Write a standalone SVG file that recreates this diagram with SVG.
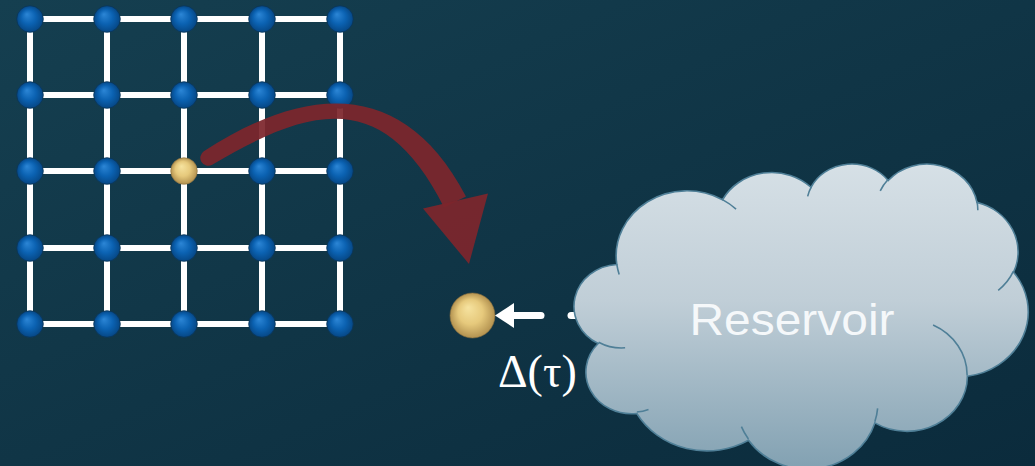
<svg xmlns="http://www.w3.org/2000/svg" width="1035" height="466" viewBox="0 0 1035 466">
  <defs>
    <linearGradient id="bg" x1="0" y1="0" x2="1" y2="1">
      <stop offset="0" stop-color="#153f50"/>
      <stop offset="1" stop-color="#0b2b3c"/>
    </linearGradient>
    <radialGradient id="blueBall" cx="0.5" cy="0.5" r="0.5" fx="0.38" fy="0.32">
      <stop offset="0" stop-color="#2c86d6"/>
      <stop offset="0.55" stop-color="#0b62b2"/>
      <stop offset="1" stop-color="#064785"/>
    </radialGradient>
    <radialGradient id="goldBall" cx="0.5" cy="0.5" r="0.5" fx="0.4" fy="0.32">
      <stop offset="0" stop-color="#f6e3a0"/>
      <stop offset="0.55" stop-color="#e6c97c"/>
      <stop offset="1" stop-color="#b39250"/>
    </radialGradient>
    <linearGradient id="cloudFill" x1="0" y1="0" x2="0" y2="1">
      <stop offset="0" stop-color="#d6e0e6"/>
      <stop offset="0.45" stop-color="#c0ced7"/>
      <stop offset="1" stop-color="#82a1b2"/>
    </linearGradient>
    <style>
      .bond { stroke: #ffffff; stroke-width: 6; fill: none; }
      .site { fill: url(#blueBall); stroke: #0a3556; stroke-width: 0.8; }
      .gold { fill: url(#goldBall); stroke: #8a7040; stroke-width: 0.6; }
      .hop { fill: #7d262c; opacity: 0.93; }
      .couple { stroke: #ffffff; stroke-width: 7; stroke-linecap: round; fill: none; }
      .cloud-edge { stroke: #4f7f97; stroke-width: 1.6; vector-effect: non-scaling-stroke; }
    </style>
  </defs>

  <rect width="1035" height="466" fill="url(#bg)"/>

  <!-- lattice bonds -->
  <g id="lattice-bonds">
    <path class="bond" d="M30,19H340 M30,95H340 M30,171H340 M30,248H340 M30,324H340"/>
    <path class="bond" d="M30,19V324 M107,19V324 M184,19V324 M262,19V324 M340,19V324"/>
  </g>

  <!-- lattice sites -->
  <g id="lattice-sites">
    <circle class="site" cx="30" cy="19" r="13.3"/>
    <circle class="site" cx="107" cy="19" r="13.3"/>
    <circle class="site" cx="184" cy="19" r="13.3"/>
    <circle class="site" cx="262" cy="19" r="13.3"/>
    <circle class="site" cx="340" cy="19" r="13.3"/>
    <circle class="site" cx="30" cy="95" r="13.3"/>
    <circle class="site" cx="107" cy="95" r="13.3"/>
    <circle class="site" cx="184" cy="95" r="13.3"/>
    <circle class="site" cx="262" cy="95" r="13.3"/>
    <circle class="site" cx="340" cy="95" r="13.3"/>
    <circle class="site" cx="30" cy="171" r="13.3"/>
    <circle class="site" cx="107" cy="171" r="13.3"/>
    <circle class="site" cx="262" cy="171" r="13.3"/>
    <circle class="site" cx="340" cy="171" r="13.3"/>
    <circle class="site" cx="30" cy="248" r="13.3"/>
    <circle class="site" cx="107" cy="248" r="13.3"/>
    <circle class="site" cx="184" cy="248" r="13.3"/>
    <circle class="site" cx="262" cy="248" r="13.3"/>
    <circle class="site" cx="340" cy="248" r="13.3"/>
    <circle class="site" cx="30" cy="324" r="13.3"/>
    <circle class="site" cx="107" cy="324" r="13.3"/>
    <circle class="site" cx="184" cy="324" r="13.3"/>
    <circle class="site" cx="262" cy="324" r="13.3"/>
    <circle class="site" cx="340" cy="324" r="13.3"/>
  </g>

  <!-- impurity site in the lattice -->
  <g id="impurity-site">
    <circle class="gold" cx="184" cy="171" r="13.3"/>
  </g>

  <!-- isolated impurity -->
  <g id="impurity">
    <circle class="gold" cx="472.5" cy="315.5" r="22.5"/>
  </g>

  <!-- connectors -->
  <g id="connectors">
    <g id="mapping-arrow">
      <!-- tapered curved shaft with rounded tail -->
      <path class="hop" d="M203.8,151.2 C304,86.5 402.8,75.4 466,196.6 L444,207.4 C385,90 314,104 212.2,164.8 A8,8 0 0,1 203.8,151.2 Z"/>
      <polygon class="hop" points="423,208.5 488,193.5 469,264"/>
    </g>
    <g id="hybridization-arrow">
      <line class="couple" x1="571" y1="315.5" x2="605" y2="315.5"/>
      <line class="couple" x1="512" y1="315.5" x2="541" y2="315.5"/>
      <polygon fill="#ffffff" points="495,315.5 514,303 514,328"/>
    </g>
  </g>

  <!-- bath cloud -->
  <g id="reservoir">
    <g transform="translate(576,163) scale(0.010463,0.00706)">
      <path class="cloud-edge" fill="url(#cloudFill)" d="M3900,14370
        A6753,9190 0 0,1 14005,5202
        A5333,7267 0 0,1 22460,3434
        A4365,5945 0 0,1 29838,2483
        A4857,6595 0 0,1 38323,5580
        A5333,7273 0 0,1 41823,15463
        A6775,9220 0 0,1 37409,30205
        A5785,7867 0 0,1 28561,36816
        A6752,9215 0 0,1 16487,39272
        A7720,10543 0 0,1 5812,35482
        A4360,5918 0 0,1 2121,25560
        A4345,5945 0 0,1 3900,14370 Z"/>
      <path class="cloud-edge" fill="none" d="M4693,26177 A4345,5945 0 0,1 2159,25380
        M6928,34899 A4360,5918 0 0,1 5820,35280
        M16478,39090 A6752,9215 0 0,1 15808,37346
        M28827,34751 A6752,9215 0 0,1 28561,36660
        M34129,22954 A5785,7867 0 0,1 37381,30090
        M41798,15354 A5333,7273 0 0,1 40351,18029
        M38324,5426 A4857,6595 0 0,1 38400,6690
        M29078,3952 A4857,6595 0 0,1 29821,2339
        M22141,4720 A4365,5945 0 0,1 22500,3330
        M14000,5192 A6753,9190 0 0,1 15298,6538
        M4127,15789 A6753,9190 0 0,1 3900,14370"/>
    </g>
    <text x="792" y="335" text-anchor="middle" font-family="'Liberation Sans', Arial, sans-serif" font-size="45" fill="#f5f8fa" textLength="205" lengthAdjust="spacingAndGlyphs">Reservoir</text>
  </g>

  <!-- hybridization label -->
  <g id="hybridization-label">
    <text x="498" y="387" font-family="'Liberation Serif', 'Times New Roman', serif" font-size="46" fill="#ffffff">Δ(τ)</text>
  </g>
</svg>
